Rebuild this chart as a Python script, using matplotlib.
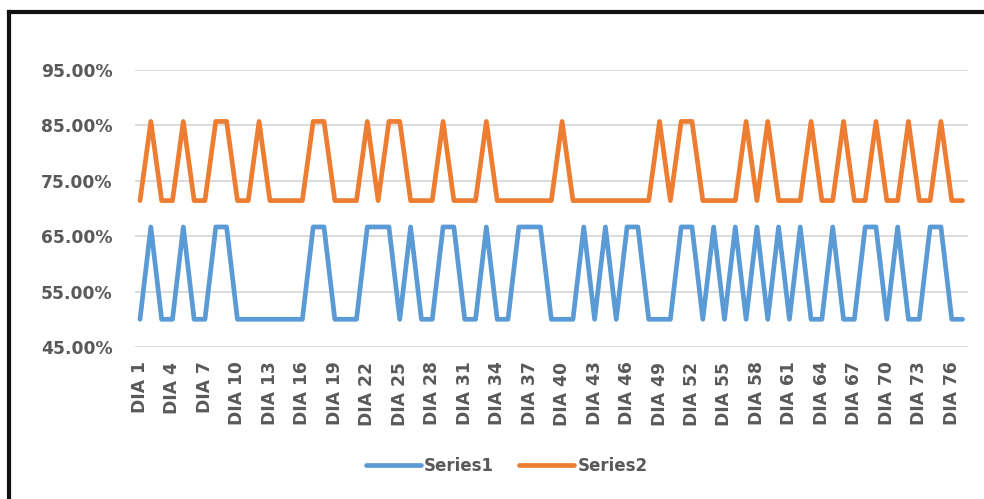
import matplotlib
matplotlib.use("Agg")
import matplotlib.pyplot as plt
from matplotlib.lines import Line2D

days = ["DIA %d" % i for i in range(1, 78)]

# days (1-based) where each series is at its high value
s1_high_days = [2, 5, 8, 9, 17, 18, 22, 23, 24, 26, 29, 30, 33, 36, 37, 38,
                42, 44, 46, 47, 51, 52, 54, 56, 58, 60, 62, 65, 68, 69, 71,
                74, 75]
s2_high_days = [2, 5, 8, 9, 12, 17, 18, 22, 24, 25, 29, 33, 40, 49, 51, 52,
                57, 59, 63, 66, 69, 72, 75]

s1_low, s1_high = 1 / 2, 2 / 3
s2_low, s2_high = 5 / 7, 6 / 7

series1 = [s1_high if d in s1_high_days else s1_low for d in range(1, 78)]
series2 = [s2_high if d in s2_high_days else s2_low for d in range(1, 78)]

y_ticks = [0.45, 0.55, 0.65, 0.75, 0.85, 0.95]

blue = "#5B9BD5"
orange = "#ED7D31"
text_col = "#595959"
grid_col = "#D9D9D9"

fig = plt.figure(figsize=(9.84, 4.99), dpi=100)
ax = fig.add_axes([134.6 / 984, 152 / 499, (968 - 134.6) / 984, 277 / 499])

x = list(range(len(days)))
ax.plot(x, series1, color=blue, lw=3.4, solid_capstyle="round",
        solid_joinstyle="round", label="Series1", zorder=3)
ax.plot(x, series2, color=orange, lw=3.4, solid_capstyle="round",
        solid_joinstyle="round", label="Series2", zorder=3)

ax.set_xlim(-0.5, len(days) - 0.5)
ax.set_ylim(0.45, 0.95)
ax.set_yticks(y_ticks)
ax.set_yticklabels(["%.2f%%" % (v * 100) for v in y_ticks])
ax.set_xticks(x[::3])
ax.set_xticklabels(days[::3], rotation=90)
ax.tick_params(axis="both", length=0, colors=text_col, labelsize=12.3)
ax.tick_params(axis="y", pad=16)
ax.tick_params(axis="x", pad=10.5)
for lab in ax.get_xticklabels() + ax.get_yticklabels():
    lab.set_fontweight("bold")

ax.grid(axis="y", color=grid_col, lw=1.3, zorder=0)
ax.set_axisbelow(True)
for sp in ax.spines.values():
    sp.set_visible(False)

leg = fig.legend(loc="center", bbox_to_anchor=(0.515, 0.066), ncol=2,
                 frameon=False, handlelength=3.3, handletextpad=0.2,
                 columnspacing=1.5, prop={"weight": "bold", "size": 12})
for t in leg.get_texts():
    t.set_color(text_col)
for h in leg.get_lines():
    h.set_linewidth(3.4)
    h.set_solid_capstyle("round")

# outer frame: top and left edges only
fig.add_artist(Line2D([9 / 984, 1.0], [1 - 12 / 499, 1 - 12 / 499],
                      color="#111111", lw=3, transform=fig.transFigure))
fig.add_artist(Line2D([9 / 984, 9 / 984], [0.0, 1 - 12 / 499],
                      color="#111111", lw=3, transform=fig.transFigure))

fig.savefig("out.png", dpi=100)
